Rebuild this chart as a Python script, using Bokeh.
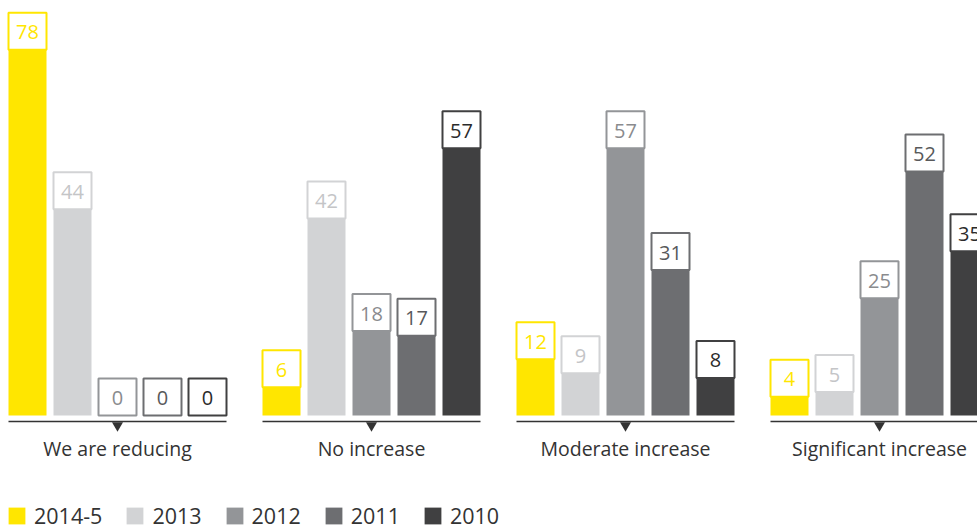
from bokeh.plotting import figure
from bokeh.models import Range1d, Legend, LegendItem, ColumnDataSource
from bokeh.embed import file_html
from bokeh.resources import INLINE
from bokeh.core.properties import value

groups = ["We are reducing", "No increase", "Moderate increase", "Significant increase"]
series = ["2014-5", "2013", "2012", "2011", "2010"]
v2014_5 = [78, 6, 12, 4]
v2013 = [44, 42, 9, 5]
v2012 = [0, 18, 57, 25]
v2011 = [0, 17, 31, 52]
v2010 = [0, 57, 8, 35]
values = [v2014_5, v2013, v2012, v2011, v2010]
colors = ["#FFE600", "#D2D3D5", "#939598", "#6D6E71", "#404041"]
text_colors = ["#FFE600", "#C4C5C7", "#8A8B8E", "#58595B", "#2B2B2B"]

FONT = "Open Sans"
W, H = 977, 530
PX = 4.69          # pixels per value unit
GP = 254.0         # pixels per group
BASE_PX = 115      # px from bottom of frame to baseline
BW = 38 / GP       # bar width (group units)
OFF = 45 / GP      # bar pitch (group units)
BOX = 37           # label box height px

x_start = -117 / GP
p = figure(width=W, height=H, output_backend="svg", toolbar_location=None,
           x_range=Range1d(x_start, x_start + W / GP),
           y_range=Range1d(-BASE_PX / PX, (H - BASE_PX) / PX),
           x_axis_type=None, y_axis_type=None, min_border=0)
p.outline_line_color = None
p.xgrid.visible = False
p.ygrid.visible = False
p.background_fill_color = "white"
p.border_fill_color = "white"

items = []
for k, (name, vals, c, tc) in enumerate(zip(series, values, colors, text_colors)):
    xs = [i + (k - 2) * OFF for i in range(len(groups))]
    src = ColumnDataSource(dict(x=xs, top=vals, ybox=[v + (BOX / 2) / PX for v in vals],
                                lab=[str(v) for v in vals]))
    r = p.vbar(x="x", top="top", bottom=0, width=BW, source=src,
               fill_color=c, line_color=None)
    p.rect(x="x", y="ybox", width=BW, height=BOX, height_units="screen", source=src,
           fill_color="white", line_color=c, line_width=2)
    p.text(x="x", y="top", text="lab", source=src, y_offset=-BOX / 2 + 1,
           text_align="center", text_baseline="middle", text_color=tc,
           text_font=value(FONT), text_font_size="20px")
    items.append(LegendItem(label=name, renderers=[r]))

half = 2 * OFF + BW / 2
gx = list(range(len(groups)))
p.segment(x0=[g - half for g in gx], x1=[g + half for g in gx],
          y0=-6 / PX, y1=-6 / PX, line_color="#333333", line_width=1.5)
p.scatter(x=gx, y=[-10 / PX] * len(gx), marker="inverted_triangle", size=11,
          fill_color="#333333", line_color=None)
p.text(x=gx, y=[0] * len(gx), text=groups, y_offset=33, text_align="center",
       text_baseline="middle", text_color="#333333", text_font=value(FONT),
       text_font_size="19.5px")

legend = Legend(items=items, orientation="horizontal", location=(6, 0),
                glyph_width=21, glyph_height=21, label_standoff=7, spacing=22,
                padding=0, margin=0, border_line_color=None, background_fill_alpha=0,
                label_text_font=FONT, label_text_font_size="21.5px",
                label_text_color="#333333")
p.add_layout(legend)

open("out.html", "w").write(file_html(p, INLINE))
